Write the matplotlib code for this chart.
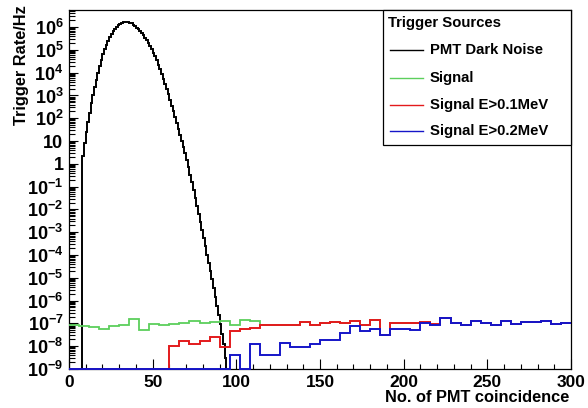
import numpy as np
import matplotlib
matplotlib.use("Agg")
import matplotlib.pyplot as plt
from matplotlib.patches import Rectangle
from matplotlib.lines import Line2D
from matplotlib.ticker import FixedLocator, LogLocator, MultipleLocator, NullFormatter

plt.rcParams['font.family'] = ['Liberation Sans', 'DejaVu Sans']
plt.rcParams['font.weight'] = 'bold'
plt.rcParams['mathtext.fontset'] = 'custom'
plt.rcParams['mathtext.rm'] = 'Liberation Sans:bold'
plt.rcParams['mathtext.bf'] = 'Liberation Sans:bold'
plt.rcParams['mathtext.it'] = 'Liberation Sans:bold'

# PMT dark noise: bins of width 1 from 8 to 94, log10(rate)
dark_edges = np.arange(8, 95, 1)
dark_log = [0.36, 0.9, 1.4, 1.85, 2.25, 2.65, 3.0, 3.35, 3.7, 4.0,
            4.3, 4.57, 4.8, 5.02, 5.22, 5.4, 5.55, 5.69, 5.81, 5.92,
            6.01, 6.08, 6.14, 6.18, 6.21, 6.23, 6.23, 6.22, 6.2, 6.16,
            6.11, 6.05, 5.98, 5.91, 5.83, 5.74, 5.64, 5.53, 5.42, 5.3,
            5.17, 5.03, 4.88, 4.72, 4.54, 4.35, 4.15, 3.95, 3.74, 3.52,
            3.29, 3.05, 2.8, 2.55, 2.3, 2.05, 1.8, 1.54, 1.28, 1.02,
            0.75, 0.46, 0.16, -0.15, -0.47, -0.8, -1.14, -1.49, -1.84, -2.19,
            -2.54, -2.9, -3.26, -3.62, -3.98, -4.34, -4.7, -5.07, -5.45, -5.83,
            -6.22, -6.62, -7.03, -7.45, -7.9, -8.5]

# signal histograms: 50 bins of width 6 from 0 to 300, log10(rate), None = empty
sig_edges = np.arange(0, 306, 6)
signal_log = [-7.08, -7.1, -7.17, -7.25, -7.13, -7.08, -6.82, -7.27, -7.01, -7.05,
              -7.02, -6.98, -6.88, -6.98, -6.94, -6.88, -7.08, -6.83, -6.91, -7.08,
              -7.08, -7.08, -7.08, -6.94, -7.08, -7.0, -6.94, -7.0, -6.9, -7.08,
              -6.84, -7.5, -7.0, -7.0, -6.98, -6.93, -7.03, -6.76, -6.98, -7.05,
              -6.88, -6.98, -7.08, -6.91, -7.02, -6.94, -6.94, -6.91, -7.02, -6.96]
e01_log = [None, None, None, None, None, None, None, None, None, None,
           -8.0, -7.75, -7.9, -7.78, -7.6, -8.05, -7.32, -7.25, -7.22, -7.08,
           -7.08, -7.08, -7.08, -6.94, -7.08, -7.0, -6.94, -7.0, -6.9, -7.08,
           -6.84, -7.5, -7.0, -7.0, -6.98, -6.93, -7.03, -6.76, -6.98, -7.05,
           -6.88, -6.98, -7.08, -6.91, -7.02, -6.94, -6.94, -6.91, -7.02, -6.96]
e02_log = [None, None, None, None, None, None, None, None, None, None,
           None, None, None, None, None, None, -8.4, None, -7.91, -8.37,
           -8.37, -7.88, -8.05, -8.05, -7.9, -7.71, -7.71, -7.42, -7.13, -7.35,
           -7.23, -7.5, -7.23, -7.23, -7.27, -6.98, -7.05, -6.76, -6.98, -7.05,
           -6.88, -6.98, -7.08, -6.91, -7.02, -6.94, -6.94, -6.91, -7.02, -6.96]

ymin, ymax = 1e-9, 10 ** 6.75
green = '#5ccf5c'


def to_rate(logs):
    return np.array([ymin if v is None else 10.0 ** v for v in logs])


fig = plt.figure(figsize=(5.88, 4.08), dpi=100)
W, H = 588, 408
ax = fig.add_axes([69 / W, 1 - 369 / H, 502 / W, 359 / H])

ax.stairs(to_rate(dark_log), dark_edges, baseline=ymin, color='black', lw=1.4, zorder=2)
ax.stairs(to_rate(signal_log), sig_edges, baseline=None, color=green, lw=1.3,
          zorder=3, clip_on=False)
ax.stairs(to_rate(e01_log), sig_edges, baseline=None, color='#e31a1c', lw=1.4,
          zorder=4, clip_on=False)
ax.stairs(to_rate(e02_log), sig_edges, baseline=None, color='#1515c8', lw=1.4,
          zorder=5, clip_on=False)

ax.set_yscale('log')
ax.set_xlim(0, 300)
ax.set_ylim(ymin, ymax)

decades = list(range(-9, 7))
ylabels = []
for d in decades:
    if d == 0:
        ylabels.append('1')
    elif d == 1:
        ylabels.append('10')
    else:
        ylabels.append(r'$10^{%d}$' % d)
ax.yaxis.set_major_locator(FixedLocator([10.0 ** d for d in decades]))
ax.set_yticklabels(ylabels)
ax.yaxis.set_minor_locator(LogLocator(base=10, subs=np.arange(2, 10), numticks=100))
ax.yaxis.set_minor_formatter(NullFormatter())

ax.xaxis.set_major_locator(MultipleLocator(50))
ax.xaxis.set_minor_locator(MultipleLocator(10))

ax.tick_params(axis='both', which='both', direction='in', top=False, right=False,
               width=0.8)
ax.tick_params(axis='x', labelsize=12.5)
ax.tick_params(axis='y', labelsize=13)
ax.tick_params(axis='y', which='major', length=6.5, pad=4)
ax.tick_params(axis='y', which='minor', length=4)
ax.tick_params(axis='x', which='major', length=7, pad=4)
ax.tick_params(axis='x', which='minor', length=3.5)
for lab in ax.get_xticklabels() + ax.get_yticklabels():
    lab.set_fontweight('bold')
for sp in ax.spines.values():
    sp.set_linewidth(0.9)

fig.text(22 / W, 1 - 5 / H, 'Trigger Rate/Hz', rotation=90, ha='center', va='top',
         fontsize=11.8, fontweight='bold')
fig.text(569 / W, 1 - 397 / H, 'No. of PMT coincidence', ha='right', va='center',
         fontsize=11.8, fontweight='bold')

# legend box
lx0, lx1, ly0, ly1 = 383, 571, 10, 145
fig.patches.append(Rectangle((lx0 / W, 1 - ly1 / H), (lx1 - lx0) / W, (ly1 - ly0) / H,
                             transform=fig.transFigure, facecolor='white',
                             edgecolor='black', lw=0.9, zorder=10))
fig.text(388 / W, 1 - 23 / H, 'Trigger Sources', ha='left', va='center',
         fontsize=10.7, fontweight='bold', zorder=11)
entries = [('PMT Dark Noise', 'black', 50), ('Signal', green, 78),
           ('Signal E>0.1MeV', '#e31a1c', 105), ('Signal E>0.2MeV', '#1515c8', 131)]
for name, col, yy in entries:
    fig.lines.append(Line2D([390 / W, 423 / W], [1 - yy / H, 1 - yy / H],
                            transform=fig.transFigure, color=col, lw=1.0, zorder=11))
    fig.text(430 / W, 1 - yy / H, name, ha='left', va='center', fontsize=10.7,
             fontweight='bold', zorder=11)

fig.savefig('out.png', dpi=100)
